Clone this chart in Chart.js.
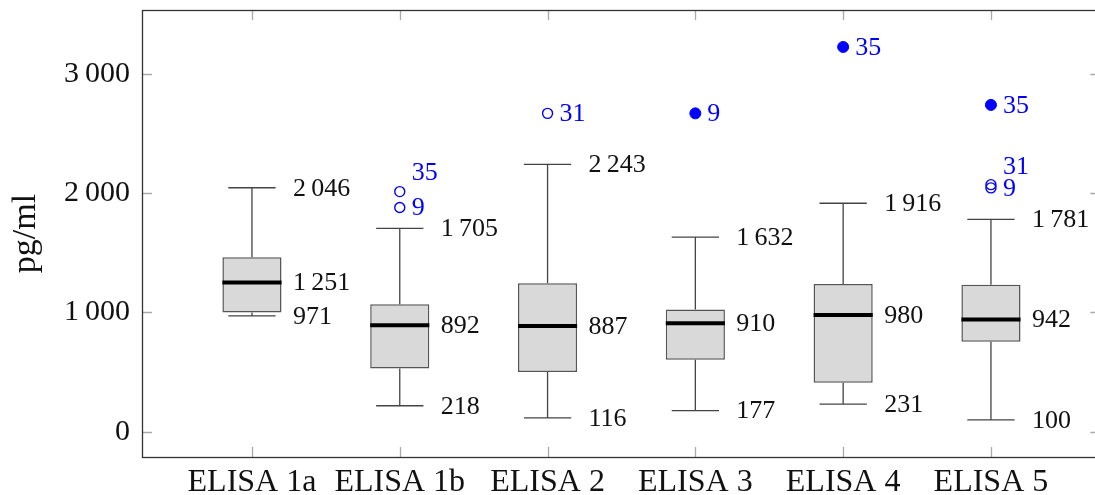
<!DOCTYPE html>
<html lang="en">
<head>
<meta charset="UTF-8">
<title>ELISA pg/ml</title>
<script src="https://cdn.jsdelivr.net/npm/chart.js"></script>
<style>
    html, body { margin: 0; padding: 0; background: #fff; }
    #wrap { width: 1095px; height: 495px; }
</style>
</head>
<body>
<div id="wrap"><canvas id="chart" width="1095" height="495"></canvas></div>
<script>
    // Box plot summary per assay
    const categories = ['ELISA 1a', 'ELISA 1b', 'ELISA 2', 'ELISA 3', 'ELISA 4', 'ELISA 5'];
    const minValues = [971, 218, 116, 177, 231, 100];
    const q1Values = [1000, 531, 500, 604, 411, 754];
    const medianValues = [1251, 892, 887, 910, 980, 942];
    const q3Values = [1464, 1070, 1246, 1025, 1240, 1232];
    const maxValues = [2046, 1705, 2243, 1632, 1916, 1781];

    // Outliers, labelled by sample number
    const outlierCategory = ['ELISA 1b', 'ELISA 1b', 'ELISA 2', 'ELISA 3', 'ELISA 4', 'ELISA 5', 'ELISA 5', 'ELISA 5'];
    const outlierValues = [2014, 1880, 2670, 2670, 3227, 2741, 2072, 2045];
    const outlierIds = ['35', '9', '31', '9', '35', '35', '31', '9'];
    const outlierFilled = [false, false, false, true, true, true, false, false];

    const yTicks = [0, 1000, 2000, 3000];

    const FONT = '"Liberation Serif", "Times New Roman", serif';
    const BLUE = '#0000ff';
    const X_FRAME_MAX = 6.74;   // axis box runs slightly past the canvas edge

    function fmt(n) {
        const s = String(n);
        return s.length > 3 ? s.slice(0, -3) + '\u2009' + s.slice(-3) : s;
    }

    const xOf = name => categories.indexOf(name) + 1;

    // whiskers + caps as one line dataset, gaps split the segments
    const whiskerData = [];
    const medianData = [];
    categories.forEach((c, i) => {
        const x = i + 1;
        whiskerData.push({x: x, y: q3Values[i]}, {x: x, y: maxValues[i]}, {x: x, y: null});
        whiskerData.push({x: x, y: q1Values[i]}, {x: x, y: minValues[i]}, {x: x, y: null});
        whiskerData.push({x: x - 0.16, y: maxValues[i]}, {x: x + 0.16, y: maxValues[i]}, {x: x, y: null});
        whiskerData.push({x: x - 0.16, y: minValues[i]}, {x: x + 0.16, y: minValues[i]}, {x: x, y: null});
        medianData.push({x: x - 0.2, y: medianValues[i]}, {x: x + 0.2, y: medianValues[i]}, {x: x, y: null});
    });

    const openPts = [], filledPts = [];
    outlierValues.forEach((v, i) => {
        const p = {x: xOf(outlierCategory[i]), y: v};
        (outlierFilled[i] ? filledPts : openPts).push(p);
    });

    // frame and inward tick marks on all four sides
    const framePlugin = {
        id: 'frame',
        afterDatasetsDraw(chart) {
            const {ctx, chartArea: a, scales: {x, y}} = chart;
            const right = x.getPixelForValue(X_FRAME_MAX);
            ctx.save();
            ctx.strokeStyle = '#aaa';
            ctx.lineWidth = 1.3;
            ctx.beginPath();
            x.ticks.forEach(t => {
                const px = Math.round(x.getPixelForValue(t.value)) + 0.5;
                ctx.moveTo(px, a.bottom); ctx.lineTo(px, a.bottom - 10);
                ctx.moveTo(px, a.top); ctx.lineTo(px, a.top + 10);
            });
            y.ticks.forEach(t => {
                const py = Math.round(y.getPixelForValue(t.value)) + 0.5;
                ctx.moveTo(a.left, py); ctx.lineTo(a.left + 10, py);
                ctx.moveTo(right, py); ctx.lineTo(right - 10, py);
            });
            ctx.stroke();
            ctx.strokeStyle = '#333';
            ctx.lineWidth = 1.3;
            ctx.strokeRect(a.left + 0.5, a.top + 0.5, right - a.left, a.bottom - a.top);
            ctx.restore();
        }
    };

    // value labels next to the boxes and outliers
    const labelPlugin = {
        id: 'valueLabels',
        afterDatasetsDraw(chart) {
            const {ctx, scales: {x, y}} = chart;
            ctx.save();
            ctx.textBaseline = 'middle';
            ctx.textAlign = 'left';
            ctx.font = '26px ' + FONT;
            ctx.fillStyle = '#111';
            categories.forEach((c, i) => {
                const px = x.getPixelForValue(i + 1) + 41;
                [minValues[i], medianValues[i], maxValues[i]].forEach(v => {
                    ctx.fillText(fmt(v), px, y.getPixelForValue(v) + 1);
                });
            });
            ctx.fillStyle = BLUE;
            outlierValues.forEach((v, i) => {
                const cat = outlierCategory[i];
                // push the label up when a neighbour sits just below it
                const crowded = outlierValues.some((w, j) =>
                    j !== i && outlierCategory[j] === cat && w < v && v - w < 200);
                const px = x.getPixelForValue(xOf(cat)) + 12;
                const py = y.getPixelForValue(v) + 1 - (crowded ? 19 : 0);
                ctx.fillText(outlierIds[i], px, py);
            });
            ctx.restore();
        }
    };

    new Chart(document.getElementById('chart'), {
        type: 'bar',
        data: {
            datasets: [
                {
                    type: 'bar',
                    data: categories.map((c, i) => ({x: i + 1, y: [q1Values[i], q3Values[i]]})),
                    backgroundColor: '#d9d9d9',
                    borderColor: '#555',
                    borderWidth: 1.5,
                    borderSkipped: false,
                    categoryPercentage: 1,
                    barPercentage: 0.4,
                    order: 4
                },
                {
                    type: 'line',
                    data: whiskerData,
                    borderColor: '#444',
                    borderWidth: 1.3,
                    pointRadius: 0,
                    spanGaps: false,
                    order: 3
                },
                {
                    type: 'line',
                    data: medianData,
                    borderColor: '#000',
                    borderWidth: 4,
                    pointRadius: 0,
                    spanGaps: false,
                    order: 2
                },
                {
                    type: 'scatter',
                    data: openPts,
                    pointRadius: 5,
                    pointBorderWidth: 1.4,
                    pointBorderColor: BLUE,
                    pointBackgroundColor: 'rgba(255,255,255,0)',
                    order: 1
                },
                {
                    type: 'scatter',
                    data: filledPts,
                    pointRadius: 5.5,
                    pointBorderWidth: 1,
                    pointBorderColor: BLUE,
                    pointBackgroundColor: BLUE,
                    order: 0
                }
            ]
        },
        options: {
            responsive: false,
            animation: false,
            layout: { autoPadding: false, padding: { top: 10, right: 0, left: 0, bottom: 0 } },
            plugins: {
                legend: { display: false },
                tooltip: { enabled: false }
            },
            scales: {
                x: {
                    type: 'linear',
                    offset: false,
                    min: 0.256,
                    max: 6.704,
                    grid: { display: false, drawTicks: false, offset: false },
                    border: { display: false },
                    afterBuildTicks: s => { s.ticks = categories.map((c, i) => ({value: i + 1})); },
                    afterFit: s => {
                        s.height = 38;
                        s.paddingLeft = 0; s.paddingRight = 0;
                    },
                    ticks: {
                        autoSkip: false,
                        maxRotation: 0,
                        padding: 6,
                        color: '#111',
                        font: { family: FONT, size: 32 },
                        callback: v => categories[v - 1]
                    }
                },
                y: {
                    min: -212,
                    max: 3537,
                    grid: { display: false, drawTicks: false },
                    border: { display: false },
                    afterBuildTicks: s => { s.ticks = yTicks.map(v => ({value: v})); },
                    afterFit: s => {
                        s.width = 142;
                        s.paddingTop = 0; s.paddingBottom = 0;
                    },
                    ticks: {
                        padding: 12,
                        color: '#111',
                        font: { family: FONT, size: 30 },
                        callback: v => fmt(v)
                    },
                    title: {
                        display: true,
                        text: 'pg/ml',
                        color: '#111',
                        padding: { top: 6 },
                        font: { family: FONT, size: 34 }
                    }
                }
            }
        },
        plugins: [framePlugin, labelPlugin]
    });
</script>
</body>
</html>
